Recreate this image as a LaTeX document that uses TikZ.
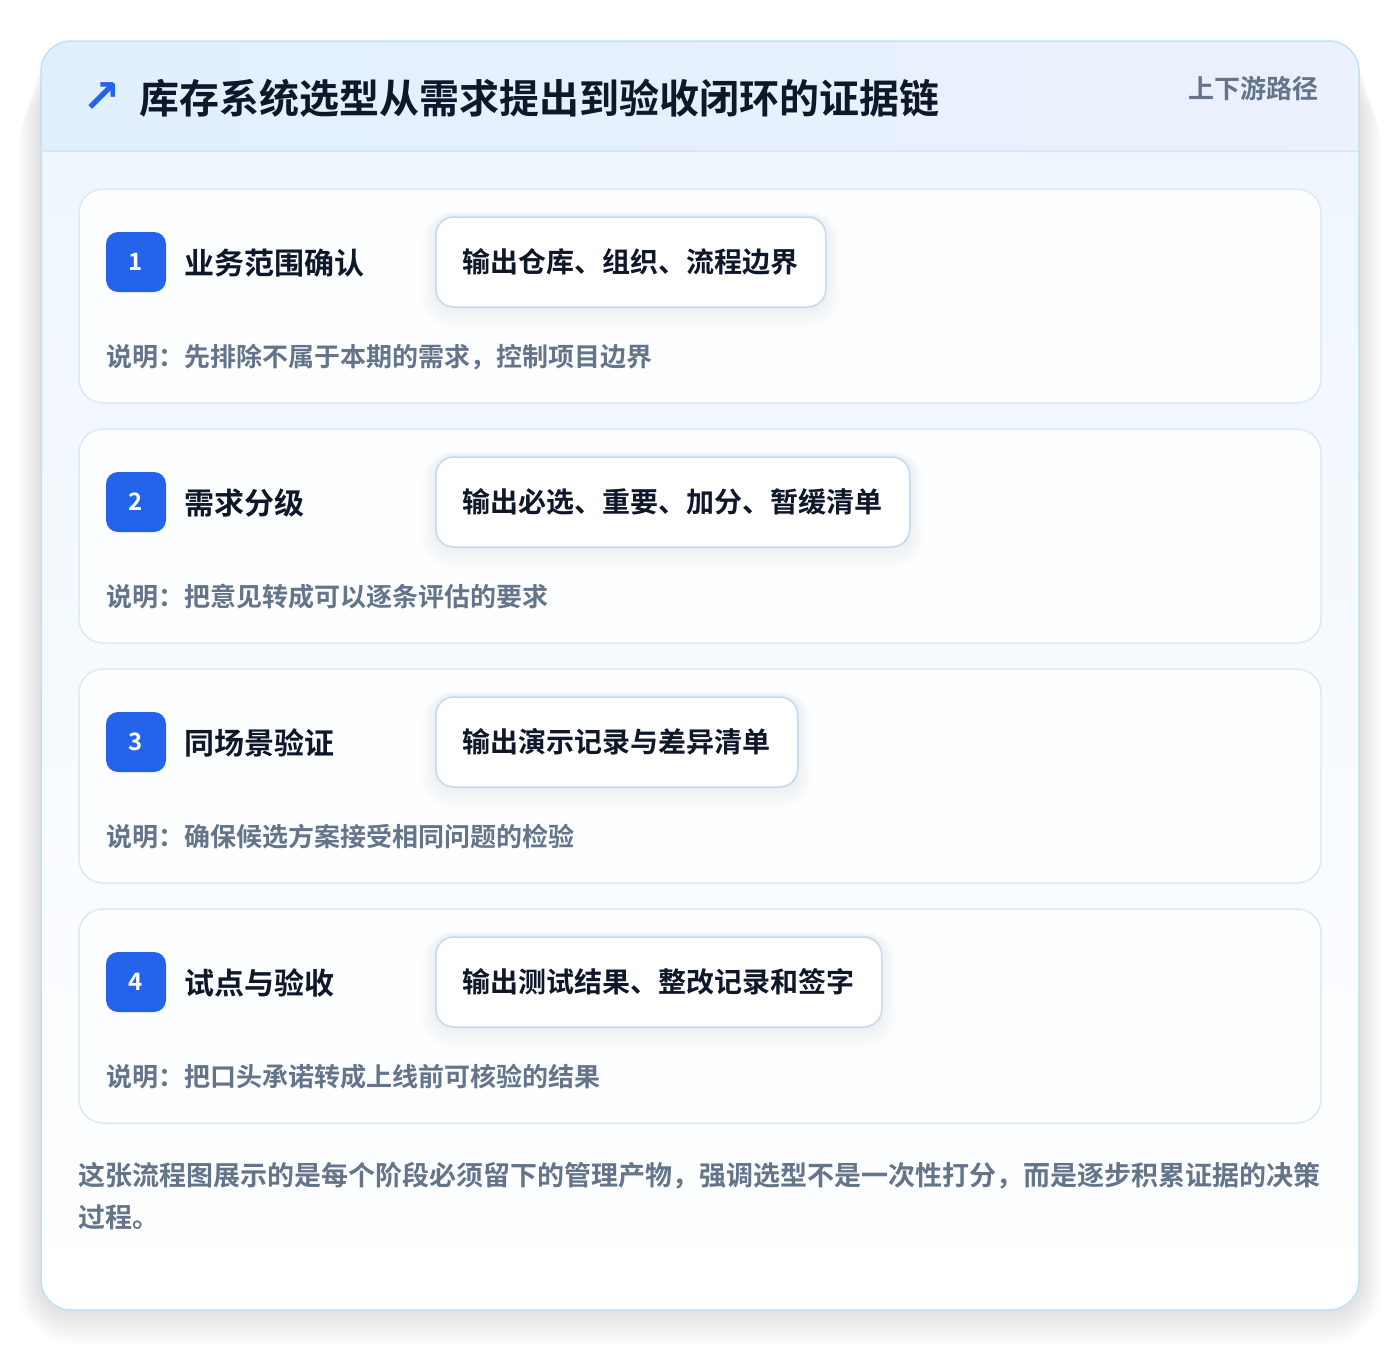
\documentclass[tikz,border=0pt]{standalone}
\usepackage{fontspec}
\setmainfont{Noto Sans CJK SC}[BoldFont={Noto Sans CJK SC Bold}]
\newfontfamily\symf{DejaVu Sans}
\definecolor{ink}{HTML}{0F172A}
\definecolor{slate}{HTML}{64748B}
\definecolor{brand}{HTML}{2563EB}
\definecolor{cardline}{HTML}{BFE1F5}
\definecolor{hdrL}{HTML}{E1F0FD}
\definecolor{hdrR}{HTML}{EBF1FD}
\definecolor{hdrline}{HTML}{D5E7F8}
\definecolor{bodytop}{HTML}{EFF6FE}
\definecolor{stepline}{HTML}{DCEAF8}
\definecolor{stepfill}{HTML}{FDFEFF}
\definecolor{outline}{HTML}{C2D8F3}
\pgfdeclarelayer{cardlayer}
\pgfdeclarelayer{shadowlayer}
\pgfsetlayers{cardlayer,shadowlayer,main}
\tikzset{
  stepcard/.style={draw=stepline, line width=1.5pt, fill=stepfill, rounded corners=24pt},
  badge/.style={fill=brand, rounded corners=12pt, minimum size=60pt, inner sep=0pt, text=white, font=\bfseries\fontsize{24}{28}\selectfont},
  steptitle/.style={anchor=west, inner sep=0pt, text=ink, font=\bfseries\fontsize{30}{36}\selectfont},
  outbox/.style={anchor=west, draw=outline, line width=1.5pt, fill=white, rounded corners=18pt, minimum height=90pt, inner xsep=27pt, inner ysep=0pt, text=ink, font=\bfseries\fontsize{28}{34}\selectfont},
  desc/.style={anchor=west, inner sep=0pt, text=slate, font=\bfseries\fontsize{26}{32}\selectfont},
}
\begin{document}
\begin{tikzpicture}[x=1pt,y=-1pt]
\begin{pgfonlayer}{cardlayer}
\useasboundingbox (0,0) rectangle (1400,1352);
\fill[white] (0,0) rectangle (1400,1352);
% main card shadow
\foreach \i in {1,...,30}{
  \fill[black, opacity=0.0026, rounded corners={30+\i}] (41-0.8*\i,41+1.6*\i) rectangle (1359+0.8*\i,1310+1.2*\i);
}
% main card
\fill[white, rounded corners=30pt] (41,41) rectangle (1359,1310);
\begin{scope}
  \clip[rounded corners=30pt] (41,41) rectangle (1359,1310);
  \shade[top color=bodytop, bottom color=white] (41,151) rectangle (1359,1310);
  \shade[left color=hdrL, right color=hdrR] (41,41) rectangle (1359,151);
  \draw[hdrline, line width=1.5pt] (41,151) -- (1359,151);
\end{scope}
\draw[cardline, line width=1.5pt, rounded corners=30pt] (41,41) rectangle (1359,1310);
\end{pgfonlayer}
% header
\node[anchor=center, inner sep=0pt, text=brand, font=\symf\bfseries\fontsize{46}{50}\selectfont] (arrow) at (102,98) {↗};
\node[anchor=west, inner sep=0pt, text=ink, font=\bfseries\fontsize{40}{48}\selectfont] (title) at (139,98) {库存系统选型从需求提出到验收闭环的证据链};
\node[anchor=east, inner sep=0pt, text=slate, font=\bfseries\fontsize{26}{32}\selectfont] (sub) at (1319,89) {上下游路径};
% steps
\foreach \k/\num/\ttl/\out/\dsc in {
  0/1/业务范围确认/{输出仓库、组织、流程边界}/{说明：先排除不属于本期的需求，控制项目边界},
  1/2/需求分级/{输出必选、重要、加分、暂缓清单}/{说明：把意见转成可以逐条评估的要求},
  2/3/同场景验证/{输出演示记录与差异清单}/{说明：确保候选方案接受相同问题的检验},
  3/4/试点与验收/{输出测试结果、整改记录和签字}/{说明：把口头承诺转成上线前可核验的结果}}{
  \pgfmathsetmacro{\oy}{240*\k}
  \begin{scope}[yshift=-\oy pt]
    \begin{pgfonlayer}{cardlayer}
      \path[stepcard] (79,189) rectangle (1321,403);
    \end{pgfonlayer}
    \node[badge] (badge\num) at (136,262) {\num};
    \node[steptitle] (title\num) at (184,263) {\ttl};
    \node[outbox] (out\num) at (435,262) {\out};
    \begin{pgfonlayer}{shadowlayer}
      \foreach \j in {1,...,14}{
        \fill[black, opacity=0.0035, rounded corners={18+\j}]
          ([xshift=-\j pt, yshift=\j pt-0.6*\j pt]out\num.north west) rectangle ([xshift=\j pt, yshift=-\j pt-0.6*\j pt]out\num.south east);
      }
    \end{pgfonlayer}
    \node[desc] (desc\num) at (106,357) {\dsc};
  \end{scope}
}
% footer
\node[anchor=north west, inner sep=0pt, align=left, text=slate, font=\bfseries\fontsize{27}{42}\selectfont] (foot) at (78,1162) {这张流程图展示的是每个阶段必须留下的管理产物，强调选型不是一次性打分，而是逐步积累证据的决策\\过程。};
\end{tikzpicture}
\end{document}
